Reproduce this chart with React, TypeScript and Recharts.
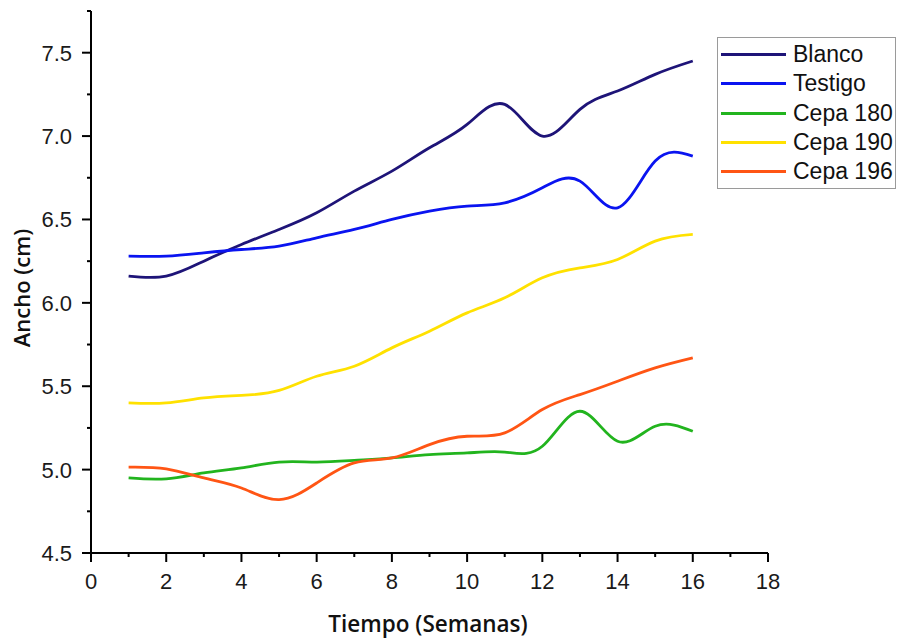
import React from "react";
import { CartesianGrid, Label, Legend, Line, LineChart, XAxis, YAxis } from "recharts";

const WEEKS = [1, 2, 3, 4, 5, 6, 7, 8, 9, 10, 11, 12, 13, 14, 15, 16];

const BLANCO = [6.16, 6.16, 6.25, 6.35, 6.44, 6.54, 6.67, 6.79, 6.93, 7.07, 7.19, 7.0, 7.16, 7.27, 7.37, 7.45];
const TESTIGO = [6.28, 6.28, 6.3, 6.32, 6.34, 6.39, 6.44, 6.5, 6.55, 6.58, 6.6, 6.69, 6.73, 6.57, 6.85, 6.88];
const CEPA_180 = [4.95, 4.945, 4.98, 5.01, 5.045, 5.045, 5.055, 5.07, 5.09, 5.1, 5.105, 5.14, 5.35, 5.17, 5.26, 5.23];
const CEPA_190 = [5.4, 5.4, 5.43, 5.445, 5.475, 5.56, 5.62, 5.73, 5.83, 5.94, 6.03, 6.15, 6.21, 6.26, 6.37, 6.41];
const CEPA_196 = [5.015, 5.005, 4.95, 4.89, 4.82, 4.92, 5.04, 5.07, 5.15, 5.2, 5.22, 5.36, 5.45, 5.53, 5.61, 5.67];

const X_TICKS = [0, 1, 2, 3, 4, 5, 6, 7, 8, 9, 10, 11, 12, 13, 14, 15, 16, 17, 18];
const Y_TICKS = [4.5, 4.75, 5.0, 5.25, 5.5, 5.75, 6.0, 6.25, 6.5, 6.75, 7.0, 7.25, 7.5, 7.75];

const SERIES = [
  { key: "blanco", name: "Blanco", color: "#1e1478", values: BLANCO },
  { key: "testigo", name: "Testigo", color: "#0a14f0", values: TESTIGO },
  { key: "cepa180", name: "Cepa 180", color: "#22b41e", values: CEPA_180 },
  { key: "cepa190", name: "Cepa 190", color: "#ffe100", values: CEPA_190 },
  { key: "cepa196", name: "Cepa 196", color: "#ff5514", values: CEPA_196 },
];

const data = WEEKS.map((week, i) => {
  const row: Record<string, number> = { week };
  SERIES.forEach((s) => {
    row[s.key] = s.values[i];
  });
  return row;
});

const TICK_FONT = "'Liberation Sans', Arial, sans-serif";
const TITLE_FONT = "'Open Sans', 'Noto Sans', sans-serif";

function XTick({ x, y, payload }: any) {
  const v = payload.value as number;
  const major = v % 2 === 0;
  return (
    <g>
      <line x1={x} x2={x} y1={y} y2={y + (major ? 9 : 4)} stroke="#000" strokeWidth={2} />
      {major && (
        <text x={x} y={y + 36} textAnchor="middle" fontSize={22} fontFamily={TICK_FONT} fill="#1a1a1a">
          {v}
        </text>
      )}
    </g>
  );
}

function YTick({ x, y, payload }: any) {
  const v = payload.value as number;
  const major = Math.round(v * 100) % 50 === 0;
  return (
    <g>
      <line x1={x - (major ? 9 : 4)} x2={x} y1={y} y2={y} stroke="#000" strokeWidth={2} />
      {major && (
        <text x={x - 19} y={y + 8} textAnchor="end" fontSize={22} fontFamily={TICK_FONT} fill="#1a1a1a">
          {v.toFixed(1)}
        </text>
      )}
    </g>
  );
}

// legend order follows SERIES, not Recharts' alphabetical sort
function LegendBox({ payload }: any) {
  const items = SERIES.map((s) => (payload ?? []).find((p: any) => p.value === s.name) ?? { value: s.name, color: s.color });
  return (
    <div
      style={{
        width: 177,
        height: 148,
        border: "1px solid #9a9a9a",
        background: "#fff",
        paddingTop: 2,
        boxSizing: "content-box",
      }}
    >
      {items.map((item: any) => (
        <div key={item.value} style={{ display: "flex", alignItems: "center", height: 29.3 }}>
          <span
            style={{
              display: "inline-block",
              width: 65,
              height: 3,
              marginLeft: 3,
              background: item.color,
            }}
          />
          <span
            style={{
              marginLeft: 7,
              fontFamily: TICK_FONT,
              fontSize: 23,
              color: "#111",
              lineHeight: "29px",
            }}
          >
            {item.value}
          </span>
        </div>
      ))}
    </div>
  );
}

export default function App() {
  return (
    <div style={{ position: "absolute", left: 0, top: 0, width: 901, height: 643, background: "#fff" }}>
      <LineChart width={901} height={643} data={data} margin={{ top: 11, right: 133, bottom: 0, left: 0 }}>
        <CartesianGrid stroke="none" />
        <XAxis
          dataKey="week"
          type="number"
          domain={[0, 18]}
          ticks={X_TICKS}
          interval={0}
          height={90}
          tickSize={0}
          tickMargin={0}
          tickLine={false}
          axisLine={{ stroke: "#000", strokeWidth: 2 }}
          tick={<XTick />}
        >
          <Label
            content={() => (
              <text x={428} y={632} textAnchor="middle" fontSize={22.5} fontWeight={600} fontFamily={TITLE_FONT} fill="#111">
                Tiempo (Semanas)
              </text>
            )}
          />
        </XAxis>
        <YAxis
          type="number"
          domain={[4.5, 7.75]}
          ticks={Y_TICKS}
          interval={0}
          width={91}
          tickSize={0}
          tickMargin={0}
          tickLine={false}
          allowDataOverflow
          axisLine={{ stroke: "#000", strokeWidth: 2 }}
          tick={<YTick />}
        >
          <Label
            content={() => (
              <text
                x={30}
                y={288}
                textAnchor="middle"
                fontSize={22}
                fontWeight={600}
                fontFamily={TITLE_FONT}
                fill="#111"
                transform="rotate(-90 30 288)"
              >
                Ancho (cm)
              </text>
            )}
          />
        </YAxis>
        <Legend
          layout="vertical"
          align="center"
          verticalAlign="middle"
          wrapperStyle={{ left: 717, top: 37, width: 179, height: 150 }}
          content={<LegendBox />}
        />
        {SERIES.map((s) => (
          <Line
            key={s.key}
            dataKey={s.key}
            name={s.name}
            type="natural"
            stroke={s.color}
            strokeWidth={2.8}
            dot={false}
            activeDot={false}
            isAnimationActive={false}
          />
        ))}
      </LineChart>
    </div>
  );
}
